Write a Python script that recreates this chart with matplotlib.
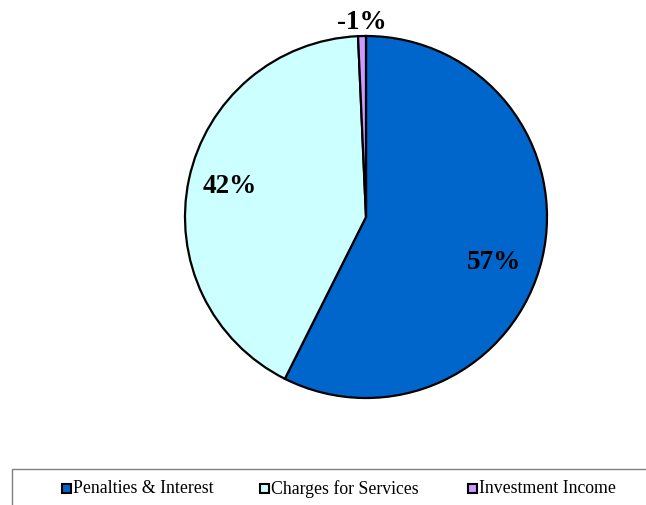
import numpy as np
import matplotlib
matplotlib.use("Agg")
import matplotlib.pyplot as plt
from matplotlib.patches import Rectangle

# data
categories = ["Penalties & Interest", "Charges for Services", "Investment Income"]
shares = [57.4, 41.9, 0.7]
pct_labels = ["57%", "42%", "-1%"]
colors = ["#0066CC", "#CCFFFF", "#CC99FF"]

plt.rcParams["font.family"] = ["Liberation Serif", "DejaVu Serif"]

W, H = 646, 506
fig = plt.figure(figsize=(W / 100, H / 100), dpi=100)

# pie axes, centre ~(366, 218) px, radius ~181 px
cx, cy, r = 366, 218, 181
ax = fig.add_axes([(cx - r) / W, (H - cy - r) / H, 2 * r / W, 2 * r / H])
wedges, _ = ax.pie(shares, colors=colors, startangle=90, counterclock=False,
                   wedgeprops=dict(edgecolor="black", linewidth=1.6))
ax.set_xlim(-1, 1)
ax.set_ylim(-1, 1)
ax.set_aspect("equal")
ax.axis("off")

# label placement: radial distance and small angle shift per slice
dists = [0.75, 0.775, 1.08]
shifts = [-6, -1, 0]
for w, lab, d, s in zip(wedges, pct_labels, dists, shifts):
    mid = np.deg2rad((w.theta1 + w.theta2) / 2 + s)
    ax.text(d * np.cos(mid), d * np.sin(mid), lab, ha="center", va="center",
            fontsize=19.5, fontweight="bold", clip_on=False)

# legend frame (runs off the right and bottom edges)
fig.patches.append(Rectangle((12 / W, -0.1), 1.0, (H - 470) / H + 0.1,
                             transform=fig.transFigure, facecolor="white",
                             edgecolor="#808080", linewidth=1.0, zorder=0))

leg_x = [62, 260, 468]
leg_y = 489
sq = 9
for x, lab, c in zip(leg_x, categories, colors):
    fig.patches.append(Rectangle((x / W, (H - leg_y - sq / 2) / H), sq / W, sq / H,
                                 transform=fig.transFigure, facecolor=c,
                                 edgecolor="black", linewidth=1.5, zorder=2))
    fig.text((x + sq + 2) / W, (H - leg_y) / H, lab, ha="left", va="center",
             fontsize=12.8)

fig.savefig("out.png", dpi=100)
